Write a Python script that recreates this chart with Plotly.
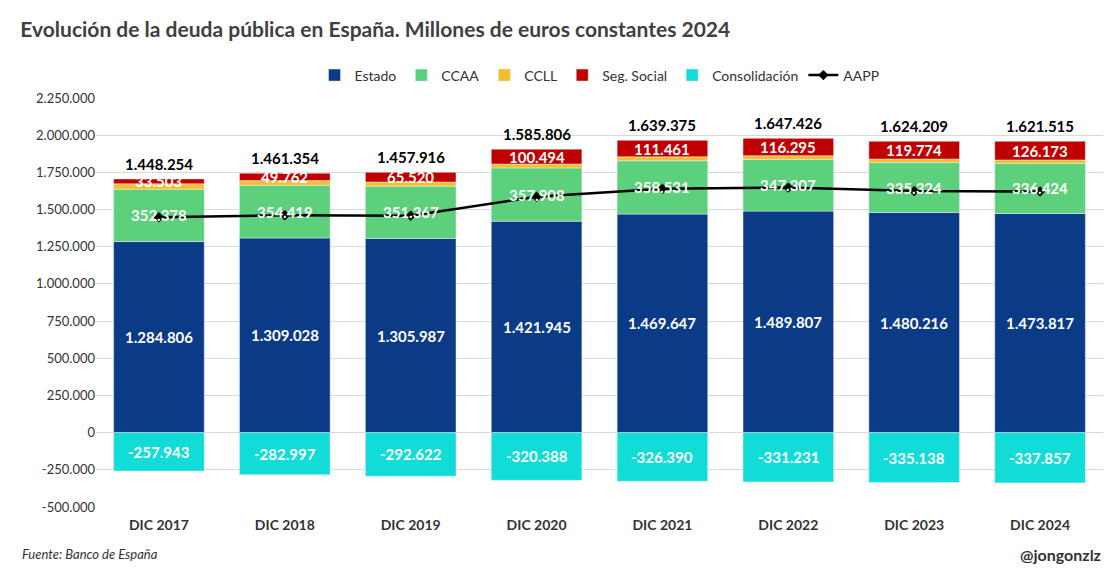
import plotly.graph_objects as go

years = ["DIC 2017","DIC 2018","DIC 2019","DIC 2020","DIC 2021","DIC 2022","DIC 2023","DIC 2024"]
estado = [1284806,1309028,1305987,1421945,1469647,1489807,1480216,1473817]
ccaa = [352378,354419,351367,357908,358531,347307,335324,336424]
ccll = [35510,31142,27664,25847,26126,25248,24033,22958]
seg = [33503,49762,65520,100494,111461,116295,119774,126173]
consol = [-257943,-282997,-292622,-320388,-326390,-331231,-335138,-337857]
aapp = [1448254,1461354,1457916,1585806,1639375,1647426,1624209,1621515]

def fmt(v):
    s = f"{abs(v):,}".replace(",", ".")
    return ("-" if v < 0 else "") + s

F = "Lato, Noto Sans, sans-serif"
fig = go.Figure()
def bar(name, vals, color):
    fig.add_trace(go.Bar(x=years, y=vals, name=name, marker_color=color, width=0.72))
bar("Estado", estado, "#0b3b86")
bar("CCAA", ccaa, "#5cd07a")
bar("CCLL", ccll, "#f4be2c")
bar("Seg. Social", seg, "#c00000")
bar("Consolidación", consol, "#12dcd8")
fig.add_trace(go.Scatter(x=years, y=aapp, name="AAPP", mode="lines+markers",
    line=dict(color="black", width=2.5), marker=dict(symbol="diamond", size=8, color="black")))

def lab(x, y, v, color="white", **kw):
    fig.add_annotation(x=x, y=y, text=f"<b>{fmt(v)}</b>", showarrow=False,
        font=dict(size=15, color=color, family=F), **kw)

for i, x in enumerate(years):
    lab(x, estado[i] / 2, estado[i])
    lab(x, estado[i] + ccaa[i] / 2, ccaa[i])
    base = estado[i] + ccaa[i] + ccll[i]
    lab(x, base + seg[i] / 2, seg[i])
    lab(x, consol[i] / 2, consol[i])
    lab(x, base + seg[i], aapp[i], color="black", yanchor="bottom", yshift=4)

fig.update_layout(
    barmode="relative", width=1119, height=571,
    paper_bgcolor="white", plot_bgcolor="white",
    margin=dict(l=88, r=24, t=90, b=72),
    font=dict(family=F, color="#333"),
    title=dict(text="<b>Evolución de la deuda pública en España. Millones de euros constantes 2024</b>",
               x=0.011, xanchor="left", y=0.962, yanchor="middle", font=dict(size=21, color="#404040")),
    legend=dict(orientation="h", x=0.5, xanchor="center", y=1.055, yanchor="middle",
                font=dict(size=14, color="#333"), traceorder="normal"),
    yaxis=dict(range=[-500000, 2250000], tickvals=list(range(-500000, 2250001, 250000)),
               ticktext=[fmt(v) for v in range(-500000, 2250001, 250000)],
               gridcolor="#d9d9d9", zeroline=False, tickfont=dict(size=13, color="#333")),
    xaxis=dict(tickfont=dict(size=14, color="#333"), ticklabelstandoff=8),
)
fig.update_xaxes(tickprefix="<b>", ticksuffix="</b>")
fig.add_annotation(text="<i>Fuente: Banco de España</i>", xref="paper", yref="paper", x=-0.075, y=-0.115,
    xanchor="left", yanchor="middle", showarrow=False, font=dict(size=13, color="#333"))
fig.add_annotation(text="<b>@jongonzlz</b>", xref="paper", yref="paper", x=1.0, y=-0.115,
    xanchor="right", yanchor="middle", showarrow=False, font=dict(size=16, color="#333"))
fig.write_html("out.html")
